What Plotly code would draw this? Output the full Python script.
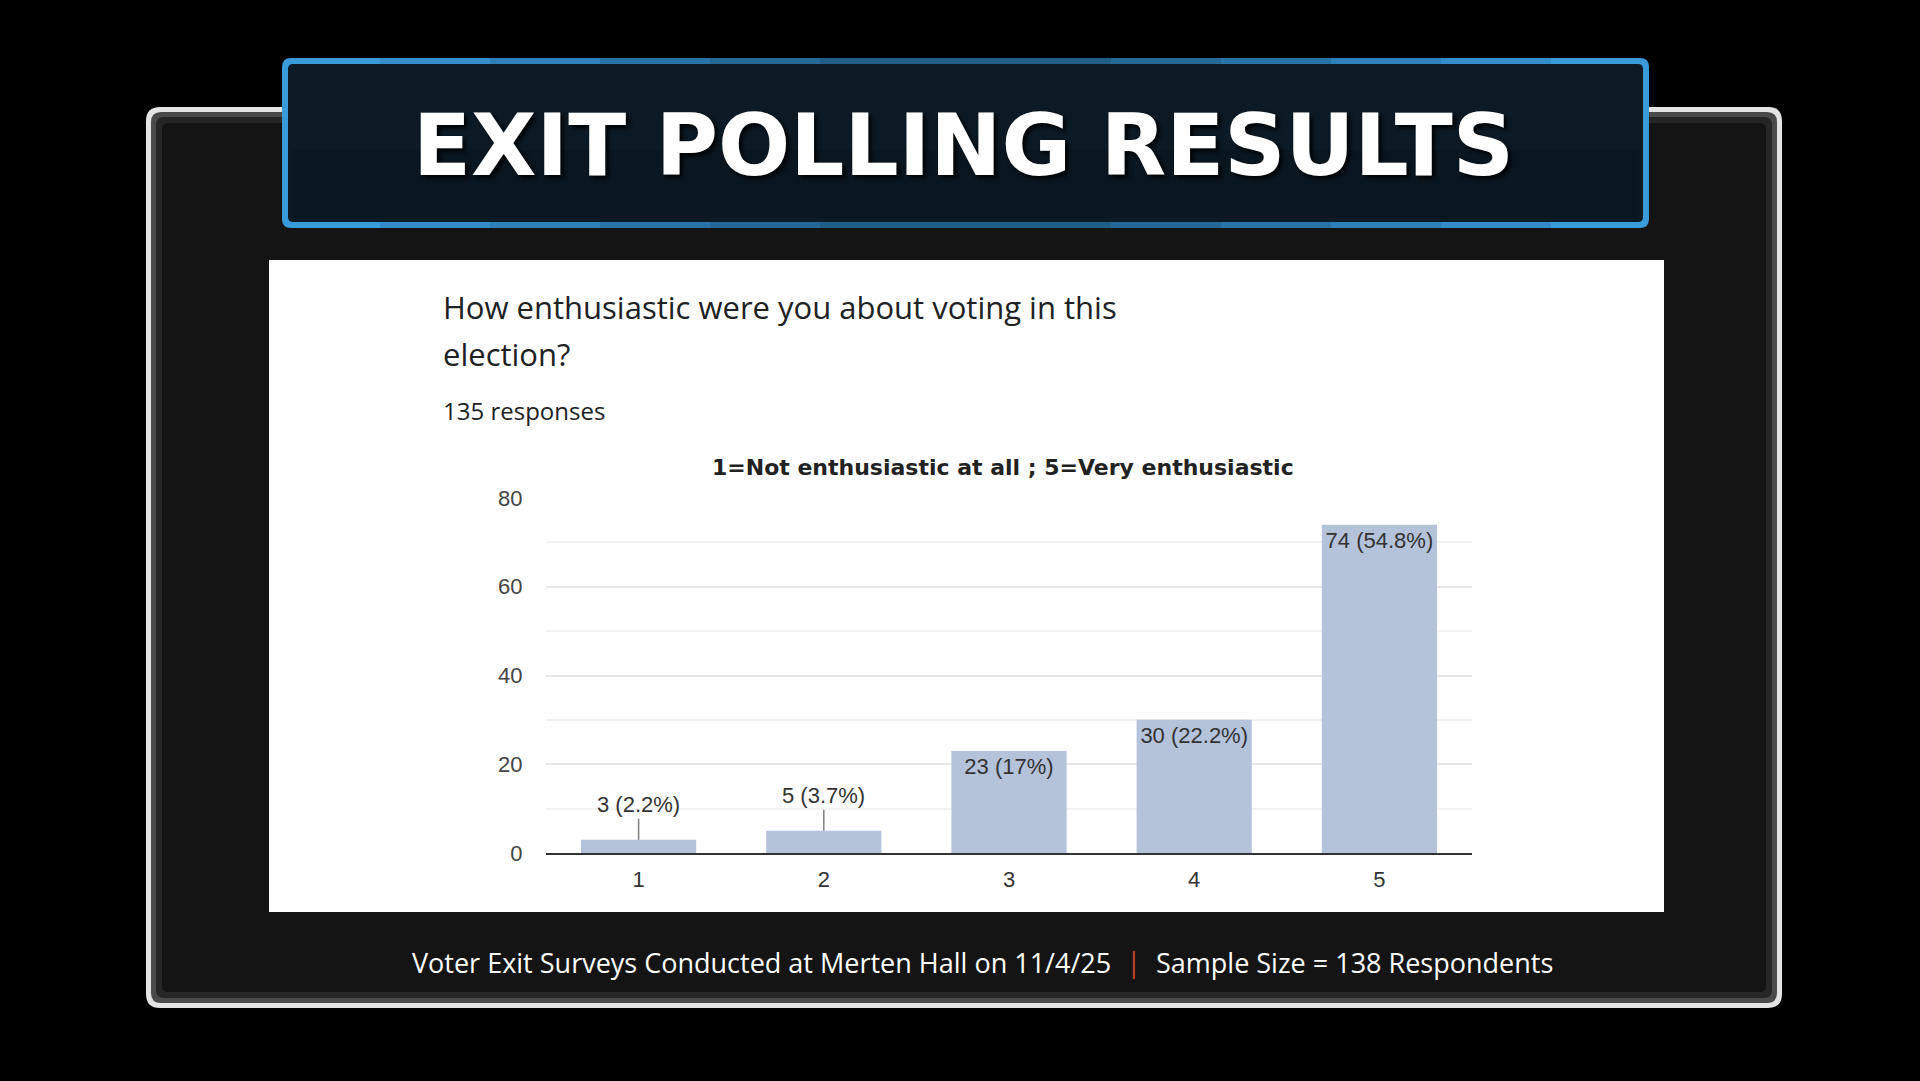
import plotly.graph_objects as go

# datos del grafico
categorias = ["1", "2", "3", "4", "5"]
respuestas = [3, 5, 23, 30, 74]
etiquetas = ["3 (2.2%)", "5 (3.7%)", "23 (17%)", "30 (22.2%)", "74 (54.8%)"]
posicion_texto = ["none", "none", "inside", "inside", "inside"]
ticks_y = [0, 20, 40, 60, 80]

titulo = "EXIT POLLING RESULTS"
pregunta = ["How enthusiastic were you about voting in this", "election?"]
n_respuestas = "135 responses"
subtitulo = "1=Not enthusiastic at all ; 5=Very enthusiastic"
pie_izq = "Voter Exit Surveys Conducted at Merten Hall on 11/4/25"
pie_der = "Sample Size = 138 Respondents"

W, H = 1920, 1081


def px(x):
    return x / W


def py(y):
    return 1 - y / H


def rrect(x0, y0, x1, y1, r):
    return (f"M {px(x0 + r)},{py(y0)} L {px(x1 - r)},{py(y0)} "
            f"Q {px(x1)},{py(y0)} {px(x1)},{py(y0 + r)} L {px(x1)},{py(y1 - r)} "
            f"Q {px(x1)},{py(y1)} {px(x1 - r)},{py(y1)} L {px(x0 + r)},{py(y1)} "
            f"Q {px(x0)},{py(y1)} {px(x0)},{py(y1 - r)} L {px(x0)},{py(y0 + r)} "
            f"Q {px(x0)},{py(y0)} {px(x0 + r)},{py(y0)} Z")


fuente_graf = "Liberation Sans, Arial"

fig = go.Figure()
fig.add_trace(go.Bar(
    x=categorias,
    y=respuestas,
    text=etiquetas,
    textposition=posicion_texto,
    insidetextanchor="end",
    textangle=0,
    textfont=dict(family=fuente_graf, size=22, color="#333333"),
    marker=dict(color="#b4c2da", line=dict(width=0)),
    hoverinfo="skip",
    showlegend=False,
))

# etiquetas con linea para las barras pequenas (x = indice de categoria)
for i in range(len(categorias)):
    if posicion_texto[i] == "none":
        fig.add_annotation(x=i, y=respuestas[i], text=etiquetas[i],
                           showarrow=True, arrowhead=0, arrowwidth=1.5,
                           arrowcolor="#808080", ax=0, ay=-35, standoff=0,
                           font=dict(family=fuente_graf, size=22, color="#333333"))

# marco exterior
formas = [
    (rrect(146, 107, 1782, 1008, 14), "#e4e4e4"),
    (rrect(151, 112, 1777, 1003, 10), "#4a4a4a"),
    (rrect(156, 117, 1772, 998, 8), "#262626"),
    (rrect(162, 123, 1766, 992, 6), "#141414"),
    (rrect(269, 260, 1664, 912, 0.01), "#ffffff"),
    (rrect(282, 58, 1649, 228, 9), "#3a9bdb"),
]
# borde del banner: mas oscuro hacia el centro (arriba y abajo)
tonos = ["#338dca", "#2d80b9", "#2873a8", "#236897", "#1f5e89"]
for k, tono in enumerate(tonos):
    a = 380 + k * 110
    b = 1551 - k * 110
    formas.append((rrect(a, 58, b, 64.5, 0.01), tono))
    formas.append((rrect(a, 221.5, b, 228, 0.01), tono))
formas.append((rrect(288, 64, 1643, 222, 5), "#0c1a25"))
formas.append((rrect(292, 150, 1639, 218, 4), "#0a1620"))

for camino, color in formas:
    fig.add_shape(type="path", path=camino, xref="paper", yref="paper",
                  fillcolor=color, line=dict(width=0), layer="below")

fig.add_annotation(x=px(963), y=py(145), xref="paper", yref="paper",
                   text=titulo, showarrow=False, xanchor="center", yanchor="middle",
                   font=dict(family="DejaVu Sans", size=85, color="#ffffff",
                             weight="bold", shadow="3px 3px 4px rgba(0,0,0,0.9)"))

fig.add_annotation(x=px(441), y=py(307), xref="paper", yref="paper",
                   text=pregunta[0], showarrow=False, xanchor="left", yanchor="middle",
                   font=dict(family="Open Sans", size=31, color="#202124"))
fig.add_annotation(x=px(441), y=py(354), xref="paper", yref="paper",
                   text=pregunta[1], showarrow=False, xanchor="left", yanchor="middle",
                   font=dict(family="Open Sans", size=31, color="#202124"))
fig.add_annotation(x=px(441), y=py(411), xref="paper", yref="paper",
                   text=n_respuestas, showarrow=False, xanchor="left", yanchor="middle",
                   font=dict(family="Open Sans", size=24, color="#202124"))
fig.add_annotation(x=px(1003), y=py(467), xref="paper", yref="paper",
                   text=subtitulo, showarrow=False, xanchor="center", yanchor="middle",
                   font=dict(family="DejaVu Sans", size=22, color="#222222",
                             weight="bold"))

# pie de pagina
fig.add_annotation(x=px(1113), y=py(962), xref="paper", yref="paper",
                   text=pie_izq, showarrow=False, xanchor="right", yanchor="middle",
                   font=dict(family="Open Sans", size=27, color="#ffffff"))
fig.add_annotation(x=px(1133), y=py(961), xref="paper", yref="paper",
                   text="|", showarrow=False, xanchor="center", yanchor="middle",
                   font=dict(family="Open Sans", size=28, color="#c8432a"))
fig.add_annotation(x=px(1154), y=py(962), xref="paper", yref="paper",
                   text=pie_der, showarrow=False, xanchor="left", yanchor="middle",
                   font=dict(family="Open Sans", size=27, color="#ffffff"))

fig.update_xaxes(type="category", domain=[px(546), px(1472)], automargin=False,
                 showline=True, linecolor="#333333", linewidth=2,
                 ticks="outside", ticklen=6, tickcolor="rgba(0,0,0,0)",
                 tickfont=dict(family=fuente_graf, size=22, color="#333333"),
                 showgrid=False, fixedrange=True)
fig.update_yaxes(domain=[py(853), py(498)], range=[0, 80], automargin=False,
                 tickvals=ticks_y, showgrid=True, gridcolor="#e8e8e8", gridwidth=1.5,
                 minor=dict(dtick=10, tick0=0, showgrid=True, gridcolor="#f2f2f2",
                            gridwidth=1.5),
                 zeroline=False, showline=False,
                 ticks="outside", ticklen=18, tickcolor="rgba(0,0,0,0)",
                 tickfont=dict(family=fuente_graf, size=22, color="#444444"),
                 fixedrange=True)

fig.update_layout(width=W, height=H, margin=dict(l=0, r=0, t=0, b=0, pad=0),
                  paper_bgcolor="#000000", plot_bgcolor="rgba(0,0,0,0)",
                  bargap=0.378, showlegend=False)

# sin margen del body para que la figura ocupe toda la ventana
fig.write_html("out.html", config={"displayModeBar": False},
               post_script="document.body.style.margin='0';"
                           "document.body.style.background='#000';"
                           "document.body.style.overflow='hidden';")
